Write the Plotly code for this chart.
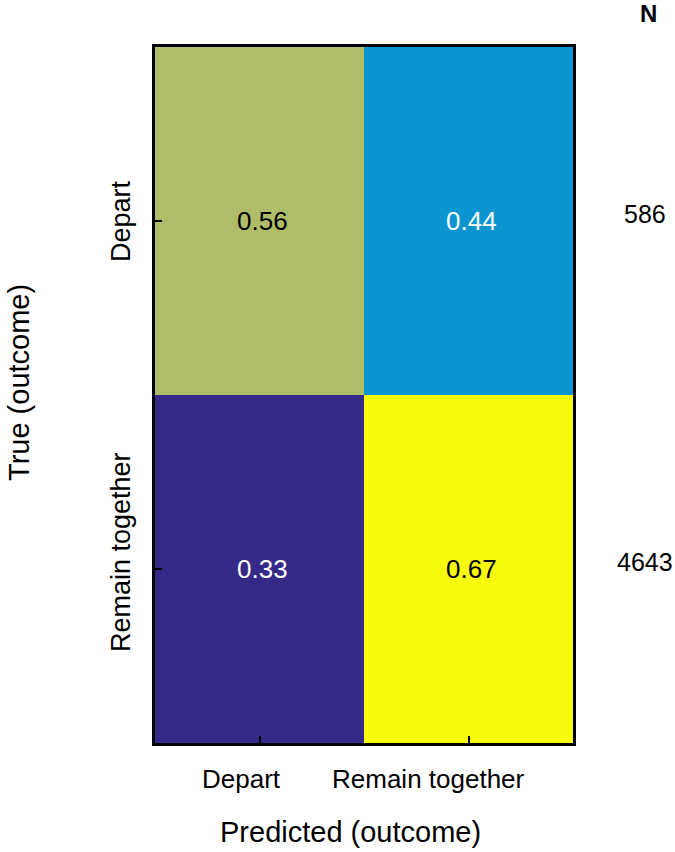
import plotly.graph_objects as go

# ---- data ----
pred_labels = ["Depart", "Remain together"]
true_labels = ["Depart", "Remain together"]
values = [[0.56, 0.44],
          [0.33, 0.67]]
text_colors = [["black", "white"],
               ["white", "black"]]
n_counts = [586, 4643]
n_header = "N"
x_title = "Predicted (outcome)"
y_title = "True (outcome)"

FONT = "Liberation Sans, Arial, sans-serif"

colorscale = [
    [0.0, "#352a87"],
    [0.32, "#0996d2"],
    [0.676, "#afbd69"],
    [1.0, "#f8fa0d"],
]

fig = go.Figure(go.Heatmap(
    z=values,
    x=pred_labels,
    y=true_labels,
    colorscale=colorscale,
    zmin=0.33, zmax=0.67,
    showscale=False,
    hoverinfo="skip",
))

ann = []
# cell values
for i, tl in enumerate(true_labels):
    for j, pl in enumerate(pred_labels):
        ann.append(dict(x=pl, y=tl, xref="x", yref="y", text=f"{values[i][j]:.2f}",
                        showarrow=False, xshift=3,
                        font=dict(family=FONT, size=26, color=text_colors[i][j])))

# x tick labels (offset as in the reference)
x_shifts = [-18, -40]
for pl, sh in zip(pred_labels, x_shifts):
    ann.append(dict(x=pl, y=0, xref="x", yref="paper", text=pl, showarrow=False,
                    xanchor="center", yanchor="middle", xshift=sh, yshift=-36,
                    font=dict(family=FONT, size=26, color="black")))
# y tick labels
y_shifts = [0, 17]
for tl, sh in zip(true_labels, y_shifts):
    ann.append(dict(x=0, y=tl, xref="paper", yref="y", text=tl, showarrow=False,
                    textangle=-90, xanchor="center", yanchor="middle",
                    xshift=-34, yshift=sh,
                    font=dict(family=FONT, size=27, color="black")))

# N column
ann.append(dict(x=1, y=1, xref="paper", yref="paper", text=f"<b>{n_header}</b>",
                showarrow=False, xanchor="center", yanchor="middle",
                xshift=75, yshift=34, font=dict(family=FONT, size=24, color="black")))
for tl, n in zip(true_labels, n_counts):
    ann.append(dict(x=1, y=tl, xref="paper", yref="y", text=str(n), showarrow=False,
                    xanchor="center", yanchor="middle", xshift=72, yshift=7,
                    font=dict(family=FONT, size=25, color="black")))

# axis titles
ann.append(dict(x=0.5, y=0, xref="paper", yref="paper", text=x_title, showarrow=False,
                xanchor="center", yanchor="middle", xshift=-14, yshift=-89,
                font=dict(family=FONT, size=29, color="black")))
ann.append(dict(x=0, y=0.5, xref="paper", yref="paper", text=y_title, showarrow=False,
                textangle=-90, xanchor="center", yanchor="middle", xshift=-136, yshift=12,
                font=dict(family=FONT, size=29, color="black")))

fig.update_layout(
    width=675, height=852,
    margin=dict(l=155, r=102, t=47, b=109),
    paper_bgcolor="white", plot_bgcolor="white",
    annotations=ann,
    font=dict(family=FONT, color="black"),
)
fig.update_xaxes(showticklabels=False, ticks="inside", ticklen=7, tickwidth=2,
                 tickcolor="black", showline=True, linecolor="black", linewidth=3,
                 mirror=True, showgrid=False, zeroline=False)
fig.update_yaxes(showticklabels=False, ticks="inside", ticklen=7, tickwidth=2,
                 tickcolor="black", showline=True, linecolor="black", linewidth=3,
                 mirror=True, showgrid=False, zeroline=False, autorange="reversed")

fig.write_html("out.html", config={"displayModeBar": False},
               post_script="document.body.style.margin='0px';document.body.style.overflow='hidden';")
